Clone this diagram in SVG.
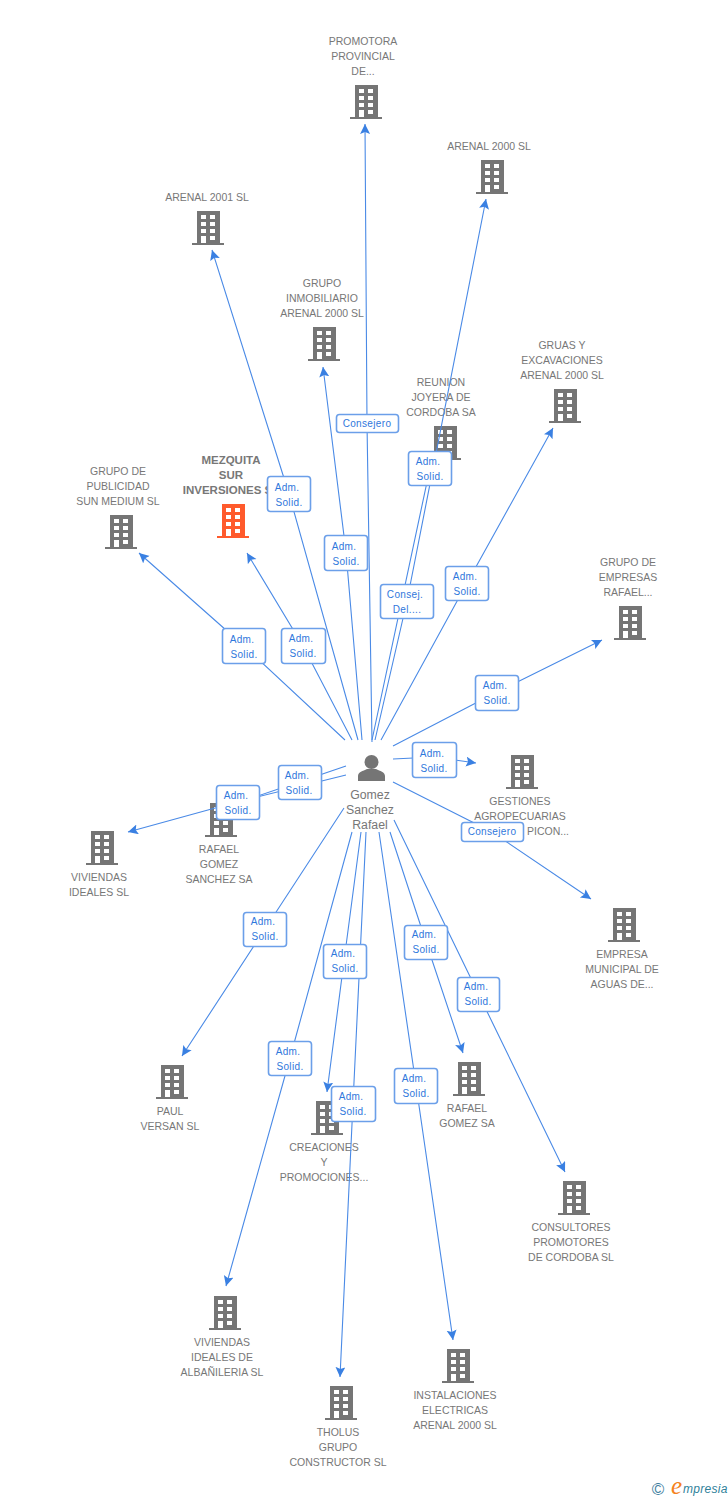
<svg xmlns="http://www.w3.org/2000/svg" width="728" height="1500" viewBox="0 0 728 1500">
<style>
text{font-family:"Liberation Sans",Arial,sans-serif}
.n{font-size:10.5px;fill:#777;text-anchor:middle}
.h{font-size:12.3px;fill:#777;text-anchor:middle}
.m{font-size:11.5px;font-weight:bold;fill:#777;text-anchor:middle}
.c{fill:none;stroke:#4a8ae6;stroke-width:1.1}
.b{fill:#fff;stroke:#6b9fe9;stroke-width:1.6}
.t{font-size:10px;fill:#2f77dc;text-anchor:middle;letter-spacing:.35px}
</style>
<defs>
<g id="bld">
<path fill-rule="evenodd" d="M4 0H27V32H31V34H-1V32H4ZM8 4V8H13V4ZM17 4V8H22V4ZM8 11V15H13V11ZM17 11V15H22V11ZM8 18V22H13V18ZM17 18V22H22V18ZM8 25V32H13V25ZM17 25V29H22V25Z"/>
</g>
<marker id="a" markerUnits="userSpaceOnUse" markerWidth="12" markerHeight="12" refX="10" refY="5" orient="auto">
<path d="M0 0L10 5L0 10L2 5Z" fill="#3a80e2"/>
</marker>
</defs>
<rect width="728" height="1500" fill="#fff"/>

<g id="nodes">
<g id="n1" fill="#757575"><use href="#bld" x="351" y="85"/><text class="n" x="363" y="45">PROMOTORA</text><text class="n" x="363" y="60">PROVINCIAL</text><text class="n" x="363" y="75">DE...</text></g>
<g id="n2" fill="#757575"><use href="#bld" x="477" y="160"/><text class="n" x="489" y="150">ARENAL 2000 SL</text></g>
<g id="n3" fill="#757575"><use href="#bld" x="193" y="211"/><text class="n" x="207" y="201">ARENAL 2001 SL</text></g>
<g id="n4" fill="#757575"><use href="#bld" x="309" y="327"/><text class="n" x="322" y="287">GRUPO</text><text class="n" x="322" y="302">INMOBILIARIO</text><text class="n" x="322" y="317">ARENAL 2000 SL</text></g>
<g id="n5" fill="#757575"><use href="#bld" x="550" y="389"/><text class="n" x="562" y="349">GRUAS Y</text><text class="n" x="562" y="364">EXCAVACIONES</text><text class="n" x="562" y="379">ARENAL 2000 SL</text></g>
<g id="n6" fill="#757575"><use href="#bld" x="430" y="426"/><text class="n" x="441" y="386">REUNION</text><text class="n" x="441" y="401">JOYERA DE</text><text class="n" x="441" y="416">CORDOBA SA</text></g>
<g id="n7" fill="#ff5a2c"><use href="#bld" x="218" y="504"/><text class="m" x="231" y="464">MEZQUITA</text><text class="m" x="231" y="479">SUR</text><text class="m" x="231" y="494">INVERSIONES SL</text></g>
<g id="n8" fill="#757575"><use href="#bld" x="106" y="515"/><text class="n" x="118" y="475">GRUPO DE</text><text class="n" x="118" y="490">PUBLICIDAD</text><text class="n" x="118" y="505">SUN MEDIUM SL</text></g>
<g id="n9" fill="#757575"><use href="#bld" x="615" y="606"/><text class="n" x="628" y="566">GRUPO DE</text><text class="n" x="628" y="581">EMPRESAS</text><text class="n" x="628" y="596">RAFAEL...</text></g>
<g id="n10" fill="#757575"><use href="#bld" x="507" y="755"/><text class="n" x="520" y="805">GESTIONES</text><text class="n" x="520" y="820">AGROPECUARIAS</text><text class="n" x="527" y="835" style="text-anchor:start">PICON...</text></g>
<g id="n11" fill="#757575"><use href="#bld" x="206" y="803"/><text class="n" x="219" y="853">RAFAEL</text><text class="n" x="219" y="868">GOMEZ</text><text class="n" x="219" y="883">SANCHEZ SA</text></g>
<g id="n12" fill="#757575"><use href="#bld" x="87" y="831"/><text class="n" x="99" y="881">VIVIENDAS</text><text class="n" x="99" y="896">IDEALES SL</text></g>
<g id="n13" fill="#757575"><use href="#bld" x="609" y="908"/><text class="n" x="622" y="958">EMPRESA</text><text class="n" x="622" y="973">MUNICIPAL DE</text><text class="n" x="622" y="988">AGUAS DE...</text></g>
<g id="n14" fill="#757575"><use href="#bld" x="157" y="1065"/><text class="n" x="170" y="1115">PAUL</text><text class="n" x="170" y="1130">VERSAN SL</text></g>
<g id="n15" fill="#757575"><use href="#bld" x="454" y="1062"/><text class="n" x="467" y="1112">RAFAEL</text><text class="n" x="467" y="1127">GOMEZ SA</text></g>
<g id="n16" fill="#757575"><use href="#bld" x="312" y="1101"/><text class="n" x="324" y="1151">CREACIONES</text><text class="n" x="324" y="1166">Y</text><text class="n" x="324" y="1181">PROMOCIONES...</text></g>
<g id="n17" fill="#757575"><use href="#bld" x="559" y="1181"/><text class="n" x="571" y="1231">CONSULTORES</text><text class="n" x="571" y="1246">PROMOTORES</text><text class="n" x="571" y="1261">DE CORDOBA SL</text></g>
<g id="n18" fill="#757575"><use href="#bld" x="210" y="1296"/><text class="n" x="222" y="1346">VIVIENDAS</text><text class="n" x="222" y="1361">IDEALES DE</text><text class="n" x="222" y="1376">ALBAÑILERIA SL</text></g>
<g id="n19" fill="#757575"><use href="#bld" x="443" y="1349"/><text class="n" x="455" y="1399">INSTALACIONES</text><text class="n" x="455" y="1414">ELECTRICAS</text><text class="n" x="455" y="1429">ARENAL 2000 SL</text></g>
<g id="n20" fill="#757575"><use href="#bld" x="326" y="1386"/><text class="n" x="338" y="1436">THOLUS</text><text class="n" x="338" y="1451">GRUPO</text><text class="n" x="338" y="1466">CONSTRUCTOR SL</text></g>
<g id="hub"><circle cx="371.500" cy="762" r="7" fill="#757575"/><path d="M358 781V776C358 772 363 771 367 769H376C380 771 385 772 385 776V781Z" fill="#757575"/><text class="h" x="370" y="799">Gomez</text><text class="h" x="370" y="814">Sanchez</text><text class="h" x="370" y="829">Rafael</text></g>
</g>

<g id="connectors">
<path class="c" marker-end="url(#a)" d="M372 742L367 423L365 124"/>
<path class="c" marker-end="url(#a)" d="M375 740L407 601L486 199"/>
<path class="c" marker-end="url(#a)" d="M358 740L289 494L212 250"/>
<path class="c" marker-end="url(#a)" d="M362 740L346 552L323 367"/>
<path class="c" marker-end="url(#a)" d="M381 740L467 583L553 428"/>
<path class="c" d="M372 740L430 468L437 456"/>
<path class="c" marker-end="url(#a)" d="M352 740L303 646L247 553"/>
<path class="c" marker-end="url(#a)" d="M345 740L244 646L139 553"/>
<path class="c" marker-end="url(#a)" d="M393 746L497 692L602 640"/>
<path class="c" marker-end="url(#a)" d="M393 759L434 757L476 763"/>
<path class="c" d="M346 766L299 782L240 802"/>
<path class="c" marker-end="url(#a)" d="M346 775L237 802L128 832"/>
<path class="c" marker-end="url(#a)" d="M393 782L492 832L591 899"/>
<path class="c" marker-end="url(#a)" d="M344 808L265 929L182 1056"/>
<path class="c" marker-end="url(#a)" d="M352 832L290 1058L226 1286"/>
<path class="c" marker-end="url(#a)" d="M361 832L344 961L327 1092"/>
<path class="c" marker-end="url(#a)" d="M366 832L353 1103L340 1377"/>
<path class="c" marker-end="url(#a)" d="M379 832L416 1085L453 1340"/>
<path class="c" marker-end="url(#a)" d="M390 832L426 942L463 1053"/>
<path class="c" marker-end="url(#a)" d="M394 820L478 993L565 1172"/>

<g id="b1"><rect class="b" x="336.500" y="414.500" width="62" height="18" rx="3"/><text class="t" x="367" y="427">Consejero</text></g>
<g id="b2"><rect class="b" x="267.500" y="476.500" width="43" height="35" rx="3"/><text class="t" x="287" y="491">Adm.</text><text class="t" x="289" y="506">Solid.</text></g>
<g id="b3"><rect class="b" x="324.500" y="535.500" width="43" height="35" rx="3"/><text class="t" x="344" y="550">Adm.</text><text class="t" x="346" y="565">Solid.</text></g>
<g id="b4"><rect class="b" x="408.500" y="451.500" width="43" height="34" rx="3"/><text class="t" x="428" y="465">Adm.</text><text class="t" x="430" y="480">Solid.</text></g>
<g id="b5"><rect class="b" x="380.500" y="584.500" width="53" height="34" rx="3"/><text class="t" x="405" y="598">Consej.</text><text class="t" x="407" y="613">Del....</text></g>
<g id="b6"><rect class="b" x="445.500" y="566.500" width="43" height="34" rx="3"/><text class="t" x="465" y="580">Adm.</text><text class="t" x="467" y="595">Solid.</text></g>
<g id="b7"><rect class="b" x="222.500" y="628.500" width="43" height="35" rx="3"/><text class="t" x="242" y="643">Adm.</text><text class="t" x="244" y="658">Solid.</text></g>
<g id="b8"><rect class="b" x="281.500" y="628.500" width="44" height="35" rx="3"/><text class="t" x="301" y="642">Adm.</text><text class="t" x="303" y="657">Solid.</text></g>
<g id="b9"><rect class="b" x="475.500" y="675.500" width="43" height="35" rx="3"/><text class="t" x="495" y="689">Adm.</text><text class="t" x="497" y="704">Solid.</text></g>
<g id="b10"><rect class="b" x="412.500" y="742.500" width="44" height="35" rx="3"/><text class="t" x="432" y="757">Adm.</text><text class="t" x="434" y="772">Solid.</text></g>
<g id="b11"><rect class="b" x="278.500" y="765.500" width="43" height="34" rx="3"/><text class="t" x="297" y="779">Adm.</text><text class="t" x="299" y="794">Solid.</text></g>
<g id="b12"><rect class="b" x="216.500" y="785.500" width="43" height="34" rx="3"/><text class="t" x="236" y="799">Adm.</text><text class="t" x="238" y="814">Solid.</text></g>
<g id="b13"><rect class="b" x="461.500" y="822.500" width="62" height="19" rx="3"/><text class="t" x="492" y="835">Consejero</text></g>
<g id="b14"><rect class="b" x="243.500" y="912.500" width="43" height="34" rx="3"/><text class="t" x="263" y="925">Adm.</text><text class="t" x="265" y="940">Solid.</text></g>
<g id="b15"><rect class="b" x="323.500" y="944.500" width="43" height="34" rx="3"/><text class="t" x="343" y="957">Adm.</text><text class="t" x="345" y="972">Solid.</text></g>
<g id="b16"><rect class="b" x="404.500" y="925.500" width="43" height="34" rx="3"/><text class="t" x="424" y="938">Adm.</text><text class="t" x="426" y="953">Solid.</text></g>
<g id="b17"><rect class="b" x="457.500" y="977.500" width="42" height="34" rx="3"/><text class="t" x="476" y="990">Adm.</text><text class="t" x="478" y="1005">Solid.</text></g>
<g id="b18"><rect class="b" x="268.500" y="1041.500" width="43" height="34" rx="3"/><text class="t" x="288" y="1055">Adm.</text><text class="t" x="290" y="1070">Solid.</text></g>
<g id="b19"><rect class="b" x="331.500" y="1086.500" width="44" height="35" rx="3"/><text class="t" x="351" y="1100">Adm.</text><text class="t" x="353" y="1115">Solid.</text></g>
<g id="b20"><rect class="b" x="394.500" y="1068.500" width="43" height="35" rx="3"/><text class="t" x="414" y="1082">Adm.</text><text class="t" x="416" y="1097">Solid.</text></g>
</g>

<g id="logo">
<text x="658" y="1495" font-size="17" fill="#3f7f9f" text-anchor="middle">©</text>
<text x="671" y="1494" font-size="25" font-style="italic" fill="#f58220" style="font-family:'Liberation Serif',serif">e</text>
<text x="683" y="1493" font-size="12" font-style="italic" fill="#2f7f9a" letter-spacing=".3">mpresia</text>
</g>
</svg>
